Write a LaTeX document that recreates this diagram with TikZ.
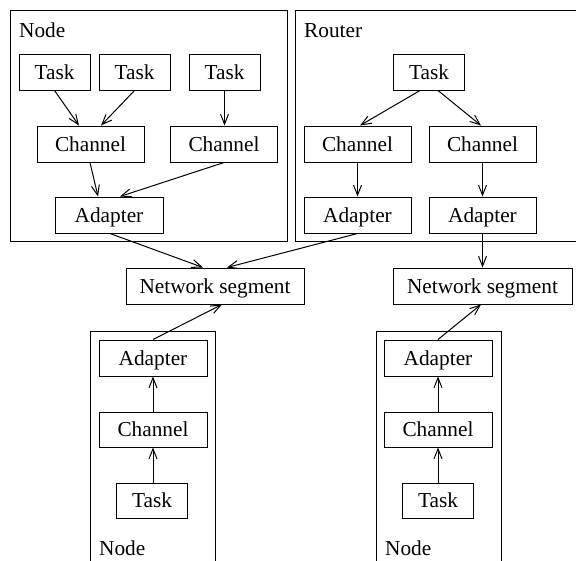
\documentclass[tikz,border=0pt]{standalone}
\usepackage{fontspec}
\setmainfont{Liberation Serif}
\usetikzlibrary{arrows.meta}
\begin{document}
\begin{tikzpicture}[x=1pt,y=-1pt,
  font=\fontsize{21.3}{24}\selectfont,
  box/.style={draw, line width=1pt, inner sep=0pt, minimum height=36pt, text height=16pt, text depth=2pt, align=center},
  taskbox/.style={box, minimum width=71pt},
  chanbox/.style={box, minimum width=107pt},
  netbox/.style={box, minimum width=178pt},
  frame/.style={draw, line width=1pt},
  lbl/.style={anchor=base west, inner sep=0pt},
  conn/.style={line width=1pt, -{Straight Barb[length=10pt,width=8pt,line width=1pt]}}
]
\useasboundingbox (0,0) rectangle (576,560);
% frames
\draw[frame] (10,10) rectangle (287,241);
\draw[frame] (577,10) -- (295,10) -- (295,241) -- (577,241);
\draw[frame] (90,561) -- (90,331) -- (215,331) -- (215,561);
\draw[frame] (376,561) -- (376,331) -- (501,331) -- (501,561);
% frame labels
\node[lbl] (l1) at (19,37) {Node};
\node[lbl] (l2) at (304,37) {Router};
\node[lbl] (l3) at (99,555) {Node};
\node[lbl] (l4) at (385,555) {Node};
% top-left node
\node[taskbox] (T1) at (54.5,72) {Task};
\node[taskbox] (T2) at (134.5,72) {Task};
\node[taskbox] (T3) at (224.5,72) {Task};
\node[chanbox] (C1) at (90.5,144) {Channel};
\node[chanbox] (C2) at (224,144) {Channel};
\node[chanbox, minimum width=108pt] (A) at (109,215) {Adapter};
% router
\node[taskbox] (RT) at (429,72) {Task};
\node[chanbox] (RC1) at (357.5,144) {Channel};
\node[chanbox] (RC2) at (482.5,144) {Channel};
\node[chanbox] (RA1) at (357.5,215) {Adapter};
\node[chanbox] (RA2) at (482.5,215) {Adapter};
% network segments
\node[netbox] (N1) at (215,286) {Network segment};
\node[netbox, minimum width=179pt] (N2) at (482.5,286) {Network segment};
% bottom-left node
\node[chanbox, minimum width=108pt] (BA) at (153,358) {Adapter};
\node[chanbox, minimum width=108pt, minimum height=35pt] (BC) at (153,429.5) {Channel};
\node[taskbox, minimum height=35pt] (BT) at (152,500.5) {Task};
% bottom-right node
\node[chanbox, minimum width=108pt] (CA) at (438,358) {Adapter};
\node[chanbox, minimum width=108pt, minimum height=35pt] (CC) at (438,429.5) {Channel};
\node[taskbox, minimum height=35pt] (CT) at (438,500.5) {Task};
% connectors
\draw[conn] (T1.south) -- ([xshift=-11.5pt]C1.north);
\draw[conn] (T2.south) -- ([xshift=10.5pt]C1.north);
\draw[conn] (T3.south) -- (C2.north -| T3.south);
\draw[conn] ([xshift=-0.5pt]C1.south) -- ([xshift=-11pt]A.north);
\draw[conn] (C2.south) -- ([xshift=11pt]A.north);
\draw[conn] ([xshift=1pt]A.south) -- ([xshift=-12pt]N1.north);
\draw[conn] (RA1.south) -- ([xshift=12pt]N1.north);
\draw[conn] ([xshift=-9pt]RT.south) -- ([xshift=2.5pt]RC1.north);
\draw[conn] ([xshift=9pt]RT.south) -- ([xshift=-1.5pt]RC2.north);
\draw[conn] (RC1.south) -- (RA1.north);
\draw[conn] (RC2.south) -- (RA2.north);
\draw[conn] (RA2.south) -- (N2.north);
\draw[conn] (BA.north) -- ([xshift=7pt]N1.south);
\draw[conn] (BC.north) -- (BA.south);
\draw[conn] (BT.north -| BC.north) -- (BC.south);
\draw[conn] (CA.north) -- ([xshift=-1.5pt]N2.south);
\draw[conn] (CC.north) -- (CA.south);
\draw[conn] (CT.north) -- (CC.south);
\end{tikzpicture}
\end{document}
